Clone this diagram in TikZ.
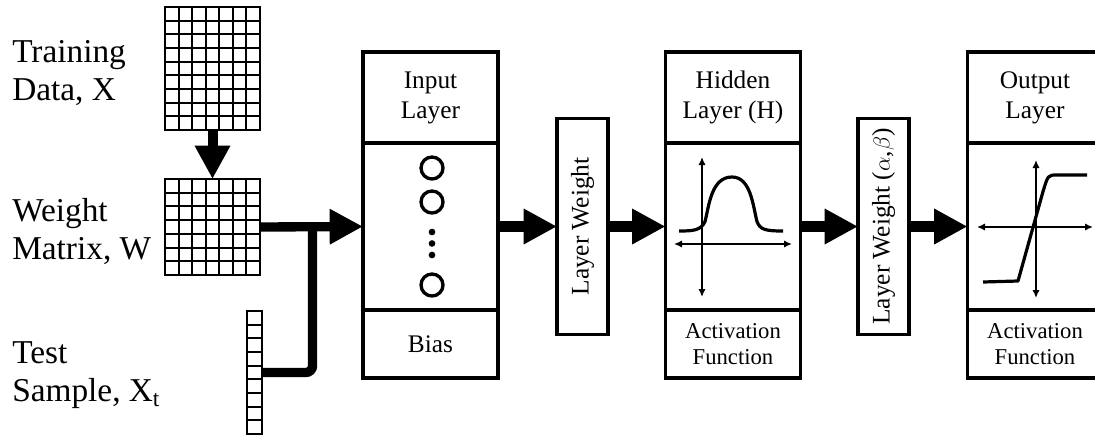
\documentclass[tikz,border=0pt]{standalone}
\usepackage{fontspec}
\setmainfont{Liberation Serif}
\usepackage{tikz}
\usetikzlibrary{positioning,arrows.meta,calc}

% inner lines of a cell grid drawn inside a named node
\newcommand{\cellgrid}[3]{%
  \pgfmathtruncatemacro{\lastcol}{#2-1}%
  \pgfmathtruncatemacro{\lastrow}{#3-1}%
  \ifnum#2>1
    \foreach \gc in {1,...,\lastcol}
      \draw[gridLine] ($(#1.north west)!\gc/#2!(#1.north east)$) -- ($(#1.south west)!\gc/#2!(#1.south east)$);
  \fi
  \foreach \gr in {1,...,\lastrow}
    \draw[gridLine] ($(#1.north west)!\gr/#3!(#1.south west)$) -- ($(#1.north east)!\gr/#3!(#1.south east)$);
}

\begin{document}
\begin{tikzpicture}[
    x=0.75pt, y=-0.75pt,
    sideLabel/.style={font=\fontsize{25}{28.5}\selectfont, align=left, anchor=west, inner sep=0pt},
    matrixBox/.style={rectangle, draw, line width=1.5pt, outer sep=0pt, inner sep=0pt},
    gridLine/.style={line width=1.5pt},
    layerTitle/.style={rectangle, draw, line width=2.6pt, outer sep=0pt, inner sep=0pt, minimum width=101.25pt, minimum height=68.25pt, align=center, font=\fontsize{19}{22.5}\selectfont},
    layerBody/.style={layerTitle, minimum height=125.25pt},
    layerFoot/.style={layerTitle, minimum height=51pt, font=\fontsize{17}{20}\selectfont},
    weightBox/.style={rectangle, draw, line width=2.6pt, outer sep=0pt, rotate=90, minimum width=162pt, minimum height=38.25pt, font=\fontsize{19}{22.5}\selectfont},
    neuron/.style={circle, draw, line width=2.5pt, minimum size=16.5pt, inner sep=0pt},
    flowArrow/.style={-{Triangle[length=25pt,width=25pt]}, line width=8pt},
    joinLine/.style={line width=7pt, rounded corners=5pt},
    axisLine/.style={{Latex[length=6pt,width=5.5pt]}-{Latex[length=6pt,width=5.5pt]}, line width=1.6pt},
    curveLine/.style={line width=2.4pt, line join=round}
]
    \useasboundingbox (0,0) rectangle (1095,436);
    \clip (0,0) rectangle (1095,436);

    % Left labels
    \node[sideLabel] (trainLbl) at (12,73.5) {Training\\Data, X};
    \node[sideLabel] (weightLbl) at (12,231) {Weight\\Matrix, W};
    \node[sideLabel] (testLbl) at (12,375) {Test\\Sample, X\textsubscript{t}};

    % Data matrices
    \node[matrixBox, minimum width=71.25pt, minimum height=92.25pt] (dataX) at (212.5,68.5) {};
    \cellgrid{dataX}{7}{9}
    \node[matrixBox, minimum width=71.25pt, minimum height=72pt] (wMat) at (212.5,227) {};
    \cellgrid{wMat}{7}{7}
    \node[matrixBox, minimum width=11pt, minimum height=92.25pt] (vecXt) at (254.5,372.5) {};
    \cellgrid{vecXt}{1}{9}

    % Input layer
    \node[layerTitle] (inTitle) at (430.5,97.5) {Input\\Layer};
    \node[layerBody, below=0pt of inTitle] (inBody) {};
    \node[layerFoot, below=0pt of inBody, font=\fontsize{19}{22.5}\selectfont] (inFoot) {Bias};
    \node[neuron] (n1) at ($(inBody.center)+(1.5,-58.5)$) {};
    \node[neuron] (n2) at ($(inBody.center)+(1.5,-24.5)$) {};
    \node[neuron] (n3) at ($(inBody.center)+(1.5,58.5)$) {};
    \foreach \dy in {5.5,17,28.5}
        \fill ($(inBody.center)+(1.5,\dy)$) circle[radius=2.5pt];

    % Layer weights
    \node[weightBox] (lw1) at (582.5,226.5) {Layer Weight};
    \node[weightBox] (lw2) at (883.5,226.5) {Layer Weight ($\alpha$,$\beta$)};

    % Hidden layer
    \node[layerTitle] (hidTitle) at (733,97.5) {Hidden\\Layer (H)};
    \node[layerBody, below=0pt of hidTitle] (hidBody) {};
    \node[layerFoot, below=0pt of hidBody] (hidFoot) {Activation\\Function};
    \begin{scope}[shift={(hidBody.center)}]
        \draw[axisLine] (-31,-69.5) -- (-31,70.5);
        \draw[axisLine] (-59,17.5) -- (59,17.5);
        \draw[curveLine] (-54,4.5) .. controls (-40,4.5) and (-32,4) .. (-28,-5)
            .. controls (-24,-20) and (-22,-49.5) .. (-1,-49.5)
            .. controls (18,-49.5) and (20,-20) .. (24,-5)
            .. controls (27,3) and (32,4.5) .. (50,4.5);
    \end{scope}

    % Output layer
    \node[layerTitle] (outTitle) at (1035,97.5) {Output\\Layer};
    \node[layerBody, below=0pt of outTitle] (outBody) {};
    \node[layerFoot, below=0pt of outBody] (outFoot) {Activation\\Function};
    \begin{scope}[shift={(outBody.center)}]
        \draw[axisLine] (1,-66.5) -- (1,71.5);
        \draw[axisLine] (-58,0.5) -- (58,0.5);
        \draw[curveLine] (-52,55.5) -- (-17,54.5) -- (8,-35)
            .. controls (13,-51.5) .. (22,-51.5) -- (52,-51.5);
    \end{scope}

    % Connectors
    \draw[flowArrow, line width=7.5pt] (dataX.south) -- (wMat.north);
    \coordinate (wJoin) at ($(wMat.east)!0.51!(inBody.west)$);
    \draw[joinLine] (vecXt.east) -| (wJoin);
    \draw[flowArrow, line width=7pt] (wMat.east) -- (inBody.west);
    \draw[flowArrow] (inBody.east) -- (lw1.north);
    \draw[flowArrow] (lw1.south) -- (hidBody.west);
    \draw[flowArrow] (hidBody.east) -- (lw2.north);
    \draw[flowArrow] (lw2.south) -- (outBody.west);
\end{tikzpicture}
\end{document}
